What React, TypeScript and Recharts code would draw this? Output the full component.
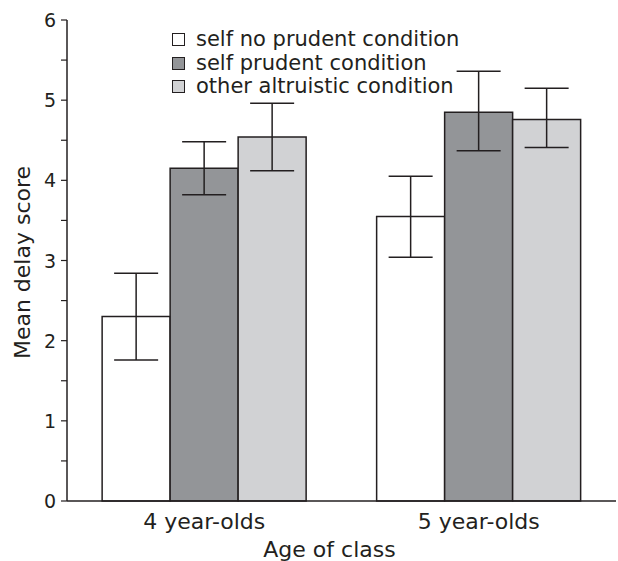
import { BarChart, Bar, XAxis, YAxis, ErrorBar, Legend, Label } from "recharts"

const categories = ["4 year-olds", "5 year-olds"]
const selfNoPrudent = [2.3, 3.55]
const selfNoPrudentLow = [1.76, 3.04]
const selfNoPrudentHigh = [2.84, 4.05]
const selfPrudent = [4.15, 4.85]
const selfPrudentLow = [3.82, 4.37]
const selfPrudentHigh = [4.48, 5.36]
const otherAltruistic = [4.54, 4.76]
const otherAltruisticLow = [4.12, 4.41]
const otherAltruisticHigh = [4.96, 5.15]
const yTicks = [0, 0.5, 1, 1.5, 2, 2.5, 3, 3.5, 4, 4.5, 5, 5.5, 6]

const series = [
  { key: "a", name: "self no prudent condition", fill: "#ffffff" },
  { key: "b", name: "self prudent condition", fill: "#939598" },
  { key: "c", name: "other altruistic condition", fill: "#d1d2d4" },
]

const data = categories.map((c, i) => ({
  name: c,
  a: selfNoPrudent[i],
  aErr: [selfNoPrudent[i] - selfNoPrudentLow[i], selfNoPrudentHigh[i] - selfNoPrudent[i]],
  b: selfPrudent[i],
  bErr: [selfPrudent[i] - selfPrudentLow[i], selfPrudentHigh[i] - selfPrudent[i]],
  c: otherAltruistic[i],
  cErr: [otherAltruistic[i] - otherAltruisticLow[i], otherAltruisticHigh[i] - otherAltruistic[i]],
}))

const ink = "#231f20"
const font = "'DejaVu Sans', Verdana, sans-serif"

const YTick = (props: any) => {
  const { x, y, payload } = props
  if (!Number.isInteger(payload.value)) return null
  return (
    <text x={x - 3} y={y} dy={7} textAnchor="end" fontSize={19} fill={ink} fontFamily={font}>
      {payload.value}
    </text>
  )
}

const LegendBox = () => (
  <div style={{ fontFamily: font, fontSize: 21, color: ink, lineHeight: "23.5px" }}>
    {series.map((s) => (
      <div key={s.key} style={{ display: "flex", alignItems: "center", whiteSpace: "nowrap" }}>
        <span
          style={{
            display: "inline-block",
            width: 11,
            height: 11,
            background: s.fill,
            border: `1px solid ${ink}`,
            marginRight: 11,
          }}
        />
        {s.name}
      </div>
    ))}
  </div>
)

export default function App() {
  return (
    <div style={{ position: "absolute", left: 0, top: 0, background: "#fff" }}>
      <BarChart
        width={618}
        height={561}
        data={data}
        margin={{ top: 20, right: 2, bottom: 0, left: 0 }}
        barCategoryGap="12.8%"
        barGap={0}
      >
        <XAxis
          dataKey="name"
          height={60}
          tickLine={false}
          axisLine={{ stroke: ink, strokeWidth: 1.5 }}
          tick={{ fontSize: 22, fill: ink, fontFamily: font }}
          tickMargin={6}
        >
          <Label value="Age of class" position="insideBottom" offset={4} fontSize={22} fill={ink} fontFamily={font} dx={-12} />
        </XAxis>
        <XAxis xAxisId="top" orientation="top" dataKey="name" height={0} tick={false} tickLine={false} axisLine={{ stroke: ink, strokeWidth: 1.5 }} />
        <YAxis
          domain={[0, 6]}
          ticks={yTicks}
          interval={0}
          width={67}
          tickSize={6}
          tickLine={{ stroke: ink, strokeWidth: 1.2 }}
          axisLine={{ stroke: ink, strokeWidth: 1.5 }}
          tick={<YTick />}
        >
          <Label value="Mean delay score" angle={-90} position="insideLeft" offset={22} dy={2} fontSize={22} fill={ink} fontFamily={font} style={{ textAnchor: "middle" }} />
        </YAxis>
        <YAxis yAxisId="right" orientation="right" width={0} domain={[0, 6]} tick={false} tickLine={false} axisLine={{ stroke: ink, strokeWidth: 1.5 }} />
        <Legend
          content={<LegendBox />}
          layout="vertical"
          verticalAlign="middle"
          align="center"
          wrapperStyle={{ top: 28, left: 172, width: "auto" }}
        />
        {series.map((s) => (
          <Bar key={s.key} dataKey={s.key} name={s.name} fill={s.fill} stroke={ink} strokeWidth={1.5} isAnimationActive={false}>
            <ErrorBar dataKey={`${s.key}Err`} width={22} stroke={ink} strokeWidth={1.5} />
          </Bar>
        ))}
      </BarChart>
    </div>
  )
}
